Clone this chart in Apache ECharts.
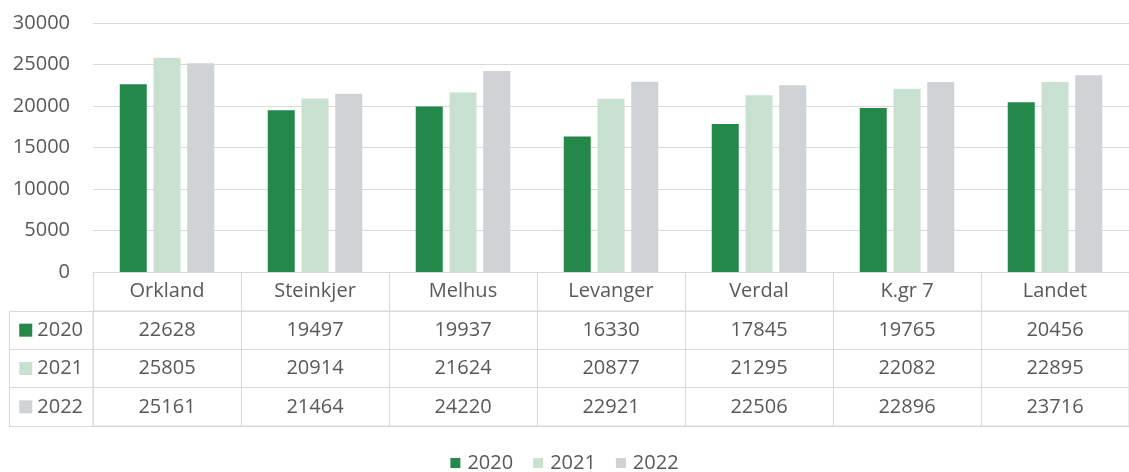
<!DOCTYPE html>
<html><head><meta charset="utf-8">
<script src="https://cdn.jsdelivr.net/npm/echarts@6/dist/echarts.min.js"></script>
<style>html,body{margin:0;padding:0;background:#fff}#c{width:1129px;height:472px}</style>
</head><body><div id="c"></div>
<script>
const categories = ['Orkland','Steinkjer','Melhus','Levanger','Verdal','K.gr 7','Landet'];
const seriesNames = ['2020','2021','2022'];
const v2020 = [22628,19497,19937,16330,17845,19765,20456];
const v2021 = [25805,20914,21624,20877,21295,22082,22895];
const v2022 = [25161,21464,24220,22921,22506,22896,23716];
const colors = ['#23884a','#c9e1d0','#cfd3d5'];
const FONT = '"Open Sans", sans-serif';
const TXT = '#595959';
const LINE = '#d9d9d9';
const allVals = [v2020, v2021, v2022];

const cellData = [];
allVals.forEach((arr, r) => arr.forEach((v, c) => cellData.push([c, r, v])));

const chart = echarts.init(document.getElementById('c'));
const rich = {t:{fontFamily:FONT,fontSize:20,color:TXT,padding:[0,0,0,5]}};
colors.forEach((col,i)=>{rich['s'+i]={backgroundColor:col,width:13,height:13};});

chart.setOption({
  animation:false,
  textStyle:{fontFamily:FONT,color:TXT},
  grid:[
    {left:93,right:-2,top:23,bottom:200},
    {left:93,right:-2,top:311,bottom:46,show:true,borderColor:LINE,borderWidth:1}
  ],
  legend:{data:seriesNames,top:448,left:'center',itemWidth:10,itemHeight:10,itemGap:20,
    icon:'rect',textStyle:{fontFamily:FONT,fontSize:20,color:TXT,padding:[0,0,0,2]}},
  xAxis:[
    {type:'category',gridIndex:0,data:categories,
     axisLine:{lineStyle:{color:LINE,width:1}},
     axisTick:{show:true,interval:0,length:39,alignWithLabel:false,lineStyle:{color:LINE}},
     axisLabel:{interval:0,margin:9,fontSize:20,color:TXT,fontFamily:FONT}},
    {type:'category',gridIndex:1,data:categories,
     axisLine:{show:false},axisTick:{show:false},axisLabel:{show:false},
     splitLine:{show:true,interval:0,lineStyle:{color:LINE}}}
  ],
  yAxis:[
    {type:'value',gridIndex:0,min:0,max:30000,interval:5000,
     axisLine:{show:false},axisTick:{show:false},
     axisLabel:{margin:23,fontSize:20,color:TXT,fontFamily:FONT,formatter:v=>String(v)},
     splitLine:{lineStyle:{color:LINE,width:1}}},
    {type:'category',gridIndex:1,data:seriesNames,inverse:true,
     axisLine:{show:true,lineStyle:{color:LINE}},
     axisTick:{show:true,interval:0,length:84,alignWithLabel:false,lineStyle:{color:LINE}},
     axisLabel:{margin:10,formatter:(v,i)=>'{s'+i+'|}{t|'+v+'}',rich:rich},
     splitLine:{show:true,interval:0,lineStyle:{color:LINE}}},
    {type:'category',gridIndex:1,data:seriesNames,inverse:true,position:'left',offset:84,
     axisLine:{show:true,lineStyle:{color:LINE}},axisTick:{show:false},axisLabel:{show:false}}
  ],
  series:[
    ...allVals.map((arr,i)=>({name:seriesNames[i],type:'bar',xAxisIndex:0,yAxisIndex:0,
      data:arr,barWidth:27,barGap:'25%',itemStyle:{color:colors[i]}})),
    {type:'custom',xAxisIndex:1,yAxisIndex:1,data:cellData,clip:false,silent:true,
     encode:{x:0,y:1},
     renderItem:(params,api)=>{
       const p=api.coord([api.value(0),api.value(1)]);
       return {type:'text',x:p[0],y:p[1],style:{text:String(api.value(2)),align:'center',
         verticalAlign:'middle',font:'20px '+FONT,fill:TXT}};
     }}
  ]
});
</script></body></html>
